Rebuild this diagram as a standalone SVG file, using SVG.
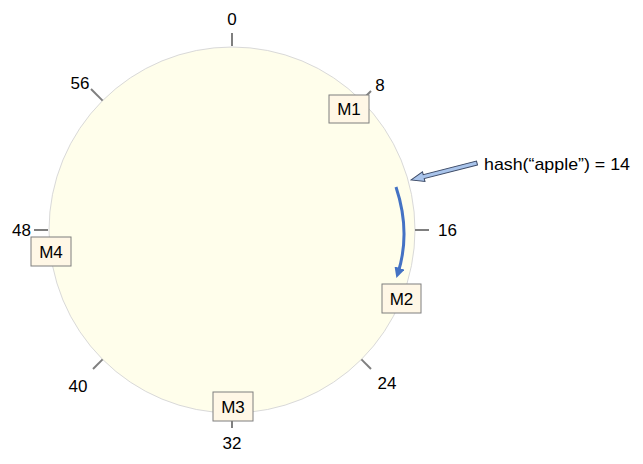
<svg xmlns="http://www.w3.org/2000/svg" width="643" height="464" viewBox="0 0 643 464">
<style>
.t{font-family:"Liberation Sans",Arial,sans-serif;font-size:17px;fill:#000}
.tick{stroke:#7f7f7f;stroke-width:2}
.box{fill:#fff7e6;stroke:#7f7f7f;stroke-width:1}
</style>
<defs>
<marker id="ah" viewBox="0 0 10 10" refX="5" refY="5" markerWidth="3.5" markerHeight="3.5" orient="auto" markerUnits="strokeWidth">
<path d="M0,0 L10,5 L0,10 z" fill="#4472c4"/>
</marker>
</defs>
<rect width="643" height="464" fill="#fff"/>
<g id="ring">
<circle cx="232" cy="230" r="183" fill="#fffeeb" stroke="#d9d9d9" stroke-width="1"/>
</g>
<g id="ticks">
<line class="tick" x1="232" y1="33" x2="232" y2="46"/>
<line class="tick" x1="361.4" y1="100.6" x2="371" y2="91"/>
<line class="tick" x1="415" y1="230" x2="429" y2="230"/>
<line class="tick" x1="361.4" y1="359.4" x2="371" y2="369"/>
<line class="tick" x1="232" y1="414" x2="232" y2="428"/>
<line class="tick" x1="102.6" y1="359.4" x2="93" y2="369"/>
<line class="tick" x1="48" y1="230" x2="34" y2="230"/>
<line class="tick" x1="102.6" y1="100.6" x2="91" y2="89"/>
</g>
<g id="labels">
<text class="t" x="232" y="25" text-anchor="middle">0</text>
<text class="t" x="380" y="91" text-anchor="middle">8</text>
<text class="t" x="438" y="236">16</text>
<text class="t" x="387" y="389" text-anchor="middle">24</text>
<text class="t" x="232" y="449" text-anchor="middle">32</text>
<text class="t" x="78" y="392" text-anchor="middle">40</text>
<text class="t" x="31" y="236" text-anchor="end">48</text>
<text class="t" x="80" y="89" text-anchor="middle">56</text>
</g>
<g id="M1"><rect class="box" x="329" y="95" width="40" height="28"/><text class="t" x="349" y="115" text-anchor="middle">M1</text></g>
<g id="M2"><rect class="box" x="382" y="284" width="39" height="29"/><text class="t" x="401.5" y="305" text-anchor="middle">M2</text></g>
<g id="M3"><rect class="box" x="213" y="392" width="40" height="29"/><text class="t" x="233" y="413" text-anchor="middle">M3</text></g>
<g id="M4"><rect class="box" x="31" y="237" width="40" height="29"/><text class="t" x="51" y="258" text-anchor="middle">M4</text></g>
<g id="hash">
<text class="t" x="484" y="170" textLength="146" lengthAdjust="spacingAndGlyphs">hash(“apple”) = 14</text>
</g>
<g id="connectors">
<g transform="translate(477,163) rotate(165.6)">
<polygon points="0,-2 55,-2 55,-5 68,0 55,5 55,2 0,2" fill="#a9c4eb" stroke="#3c4a66" stroke-width="1" stroke-linejoin="miter"/>
</g>
<path d="M396,187 Q411,232 398,273" fill="none" stroke="#4472c4" stroke-width="3" marker-end="url(#ah)"/>
</g>
</svg>
